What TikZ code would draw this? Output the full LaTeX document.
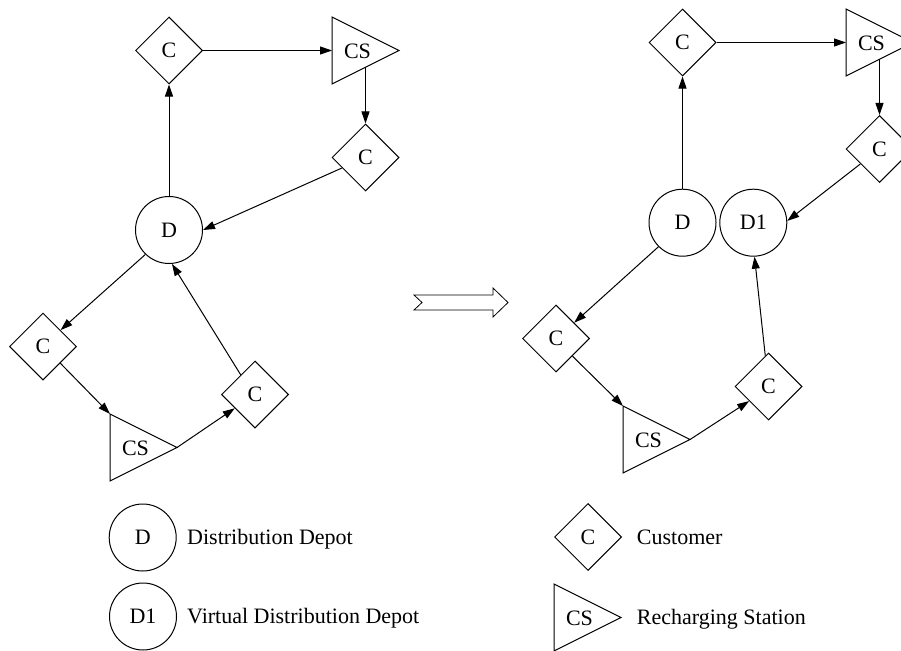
\documentclass[tikz,border=0pt]{standalone}
\usepackage{fontspec}
\setmainfont{Liberation Serif}
\usetikzlibrary{shapes.geometric,arrows.meta}
\begin{document}
\begin{tikzpicture}[x=1pt,y=-1pt,
  every node/.style={font=\fontsize{22}{26}\selectfont},
  shp/.style={draw, line width=1pt},
  cust/.style={shp, diamond, aspect=1, minimum width=67pt, minimum height=67pt, inner sep=0pt},
  depot/.style={shp, circle, minimum size=67pt, inner sep=0pt},
  lbl/.style={inner sep=0pt},
  conn/.style={line width=1pt, -{Triangle[length=12pt,width=8pt]}},
  legtext/.style={anchor=base west, inner sep=0pt},
  bigarrow/.style={draw, line width=0.8pt, line join=miter},
  cstri/.pic={
    \draw[shp, line join=miter] (0,0) -- (67,33.5) -- (0,67) -- cycle;
    \node[lbl] (-lab) at (25.5,34) {CS};
    \coordinate (-top) at (0,0);
    \coordinate (-apex) at (67,33.5);
    \coordinate (-lmid) at (0,33.5);
    \coordinate (-bmid) at (33.5,50.25);
  }
]
\path[use as bounding box] (0,0) rectangle (901,650);
\clip (0,0) rectangle (901,650);
\fill[white] (0,0) rectangle (901,650);

% ---------- left graph ----------
\node[cust] (Ctop) at (169,50.5) {C};
\pic (t1) at (332,17) {cstri};
\node[cust] (Cr) at (365.5,157.5) {C};
\node[depot] (D) at (169,230) {D};
\node[cust] (Cl) at (43,346.5) {C};
\pic (t2) at (110,414) {cstri};
\node[cust] (Cr2) at (255,394.5) {C};

\draw[conn] (D) -- (Ctop);
\draw[conn] (Ctop) -- (t1-lmid);
\draw[conn] (t1-bmid) -- (Cr);
\draw[conn] (Cr.204) -- (D.0);
\draw[conn] (D.226) -- (Cl.43);
\draw[conn] (Cl.316) -- (t2-top);
\draw[conn] (t2-apex) -- (Cr2);
\draw[conn] (Cr2.126) -- (D.-85);

% ---------- transition arrow ----------
\draw[bigarrow] (414,295) -- (493,295) -- (493,288) -- (508,302.5) -- (493,317)
  -- (493,310) -- (414,310) -- (422,302.5) -- cycle;

% ---------- right graph ----------
\node[cust] (Ctop2) at (682.5,42.5) {C};
\pic (t3) at (846,9) {cstri};
\node[cust] (Crr) at (879.5,149) {C};
\node[depot] (Dr) at (682.5,222.7) {D};
\node[depot] (D1) at (753.3,222.7) {D1};
\node[cust] (Cl2) at (556,338.5) {C};
\pic (t4) at (623,406) {cstri};
\node[cust] (Cr3) at (768.5,386.5) {C};

\draw[conn] (Dr) -- (Ctop2);
\draw[conn] (Ctop2) -- (t3-lmid);
\draw[conn] (t3-bmid) -- (Crr);
\draw[conn] (Crr.218) -- (D1.3);
\draw[conn] (Dr.225) -- (Cl2.41);
\draw[conn] (Cl2.313) -- (t4-top);
\draw[conn] (t4-apex) -- (Cr3.217);
\draw[conn] (Cr3.96) -- (D1.-88);

% ---------- legend ----------
\node[depot] (legD) at (142.7,537.5) {D};
\node[legtext] (legDt) at (187,544.5) {Distribution Depot};
\node[depot] (legD1) at (143,616.5) {D1};
\node[legtext] (legD1t) at (187,623.5) {Virtual Distribution Depot};
\node[cust] (legC) at (588,537) {C};
\node[legtext] (legCt) at (636.7,544) {Customer};
\pic (legT) at (554,584) {cstri};
\node[legtext] (legTt) at (636.7,624.5) {Recharging Station};
\end{tikzpicture}
\end{document}
